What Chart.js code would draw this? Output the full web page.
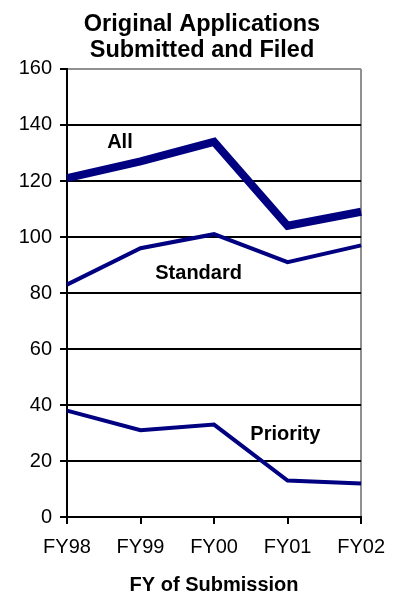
<!DOCTYPE html>
<html>
<head>
<meta charset="utf-8">
<script src="https://cdn.jsdelivr.net/npm/chart.js@4"></script>
<style>
html,body{margin:0;padding:0;background:#fff;}
#wrap{width:396px;height:597px;position:relative;}
</style>
</head>
<body>
<div id="wrap"><canvas id="c" width="396" height="597"></canvas></div>
<script>
const categories = ['FY98', 'FY99', 'FY00', 'FY01', 'FY02'];
const allApps = [121, 127, 134, 104, 109];
const standardApps = [83, 96, 101, 91, 97];
const priorityApps = [38, 31, 33, 13, 12];
const titleLines = ['Original Applications', 'Submitted and Filed'];
const xTitle = 'FY of Submission';
const seriesNames = ['All', 'Standard', 'Priority'];
// label anchors in data space: [category index, value]
const labelAnchors = [[0.72, 133.7], [1.79, 87.1], [2.97, 29.4]];

const NAVY = '#000080';
const FONT = "'Liberation Sans', Arial, sans-serif";

const seriesLabels = {
  id: 'seriesLabels',
  afterDatasetsDraw(chart) {
    const {ctx, scales: {x, y}} = chart;
    ctx.save();
    ctx.font = 'bold 20px ' + FONT;
    ctx.fillStyle = '#000';
    ctx.textAlign = 'center';
    ctx.textBaseline = 'middle';
    seriesNames.forEach((name, i) => {
      const [xi, v] = labelAnchors[i];
      ctx.fillText(name, x.getPixelForValue(xi), y.getPixelForValue(v));
    });
    ctx.restore();
  }
};

new Chart(document.getElementById('c'), {
  type: 'line',
  data: {
    labels: categories,
    datasets: [
      {label: seriesNames[0], data: allApps, borderColor: NAVY, borderWidth: 8, pointRadius: 0, tension: 0, borderJoinStyle: 'miter'},
      {label: seriesNames[1], data: standardApps, borderColor: NAVY, borderWidth: 4, pointRadius: 0, tension: 0, borderJoinStyle: 'miter'},
      {label: seriesNames[2], data: priorityApps, borderColor: NAVY, borderWidth: 4, pointRadius: 0, tension: 0, borderJoinStyle: 'miter'}
    ]
  },
  options: {
    responsive: false,
    animation: false,
    devicePixelRatio: 1,
    layout: {padding: {left: 8, right: 0, top: 0, bottom: 0}},
    plugins: {
      legend: {display: false},
      tooltip: {enabled: false},
      title: {
        display: true,
        text: titleLines,
        color: '#000',
        font: {family: FONT, size: 23.5, weight: 'bold', lineHeight: 1.106},
        padding: {top: 12, bottom: 5}
      }
    },
    scales: {
      x: {
        offset: false,
        afterFit(s) { s.height = 80; },
        border: {display: true, color: '#000', width: 2},
        grid: {
          display: true,
          drawOnChartArea: true,
          drawTicks: true,
          tickLength: 7,
          tickColor: '#000',
          tickWidth: 2,
          lineWidth: 2,
          color: (c) => (c.index === categories.length - 1 ? '#909090' : 'rgba(0,0,0,0)')
        },
        ticks: {color: '#000', font: {family: FONT, size: 20}, padding: 11, maxRotation: 0, autoSkip: false},
        title: {display: true, text: xTitle, color: '#000', font: {family: FONT, size: 20, weight: 'bold', lineHeight: 1.2}, padding: {top: 0, bottom: 0}}
      },
      y: {
        min: 0,
        max: 160,
        afterFit(s) { s.width = 59; },
        border: {display: true, color: '#000', width: 2},
        grid: {
          drawTicks: true,
          tickLength: 7,
          tickColor: '#000',
          tickWidth: 2,
          lineWidth: 2,
          color: (c) => (c.tick && c.tick.value === 160 ? '#909090' : '#000')
        },
        ticks: {stepSize: 20, color: '#000', font: {family: FONT, size: 20}, padding: 8}
      },
      spacer: {
        type: 'linear',
        position: 'right',
        display: true,
        afterFit(s) { s.width = 34; },
        grid: {display: false, drawTicks: false},
        border: {display: false},
        ticks: {display: false}
      }
    }
  },
  plugins: [seriesLabels]
});
</script>
</body>
</html>
